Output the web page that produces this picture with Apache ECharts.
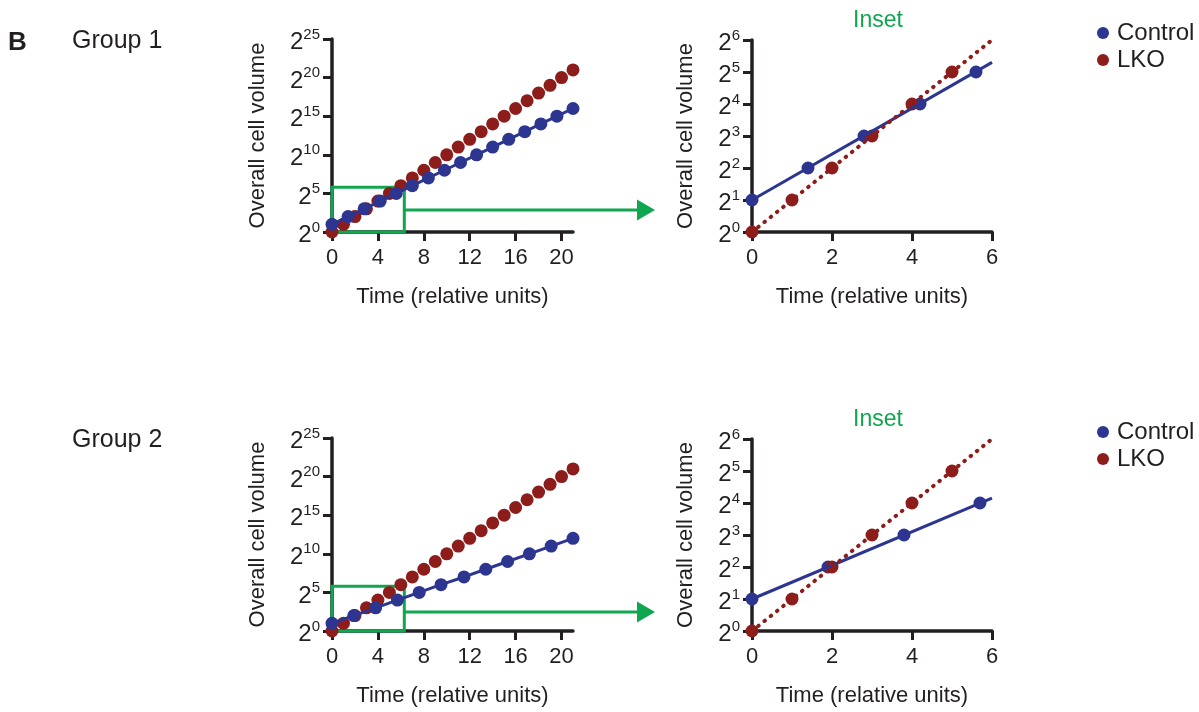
<!DOCTYPE html>
<html>
<head>
<meta charset="utf-8">
<script src="https://cdn.jsdelivr.net/npm/echarts@6.0.0/dist/echarts.min.js"></script>
<style>
  html, body { margin: 0; padding: 0; background: #fff; }
  #chart { width: 1199px; height: 712px; }
</style>
</head>
<body>
<div id="chart"></div>
<script>
// time points and log2 volume (exponents)
var timeLko = [0, 1, 2, 3, 4, 5, 6, 7, 8, 9, 10, 11, 12, 13, 14, 15, 16, 17, 18, 19, 20, 21]
var volLko = [0, 1, 2, 3, 4, 5, 6, 7, 8, 9, 10, 11, 12, 13, 14, 15, 16, 17, 18, 19, 20, 21]

var timeCtrl1 = [0, 1.4, 2.8, 4.2, 5.6, 7, 8.4, 9.8, 11.2, 12.6, 14, 15.4, 16.8, 18.2, 19.6, 21]
var volCtrl1 = [1, 2, 3, 4, 5, 6, 7, 8, 9, 10, 11, 12, 13, 14, 15, 16]

var timeCtrl2 = [0, 1.9, 3.8, 5.7, 7.6, 9.5, 11.5, 13.4, 15.3, 17.2, 19.1, 21]
var volCtrl2 = [1, 2, 3, 4, 5, 6, 7, 8, 9, 10, 11, 12]

// fitted lines shown in the insets
var fitTime = [0, 6]
var fitLko = [0, 6]
var fitCtrl1 = [1, 5.3]
var fitCtrl2 = [1, 4.15]

// zoom box on the main plots and arrow height (data units)
var boxTime = [0, 6.3]
var boxVol = [0, 5.8]
var arrowVol = [2.85, 2.5]

var mainTimeTicks = [0, 4, 8, 12, 16, 20]
var groups = ['Group 1', 'Group 2']

var BLUE = '#2c3590'
var RED = '#8c1d1a'
var GREEN = '#10a650'
var INK = '#231f20'
var FONT = 'Arial, "Liberation Sans", Helvetica, sans-serif'

function zip(xs, ys) {
  return xs.map(function(x, i) { return [x, ys[i]] })
}
function inset(pts) {
  return pts.filter(function(p) { return p[0] < 6 })
}

var chart = echarts.init(document.getElementById('chart'))

var powLabel = {
  color: INK,
  fontFamily: FONT,
  margin: 12,
  formatter: function(v) { return '{b|2}{s|' + v + '}' },
  rich: {
    b: { fontSize: 24, lineHeight: 24, padding: [7, 0, 0, 0], fontFamily: FONT, color: INK },
    s: { fontSize: 15, lineHeight: 15, verticalAlign: 'top', fontFamily: FONT, color: INK }
  }
}
var axisLine = { show: true, lineStyle: { color: INK, width: 3.5 } }
var axisTick = { show: true, length: 9, lineStyle: { color: INK, width: 3 } }
var nameStyle = { fontSize: 22, fontFamily: FONT, color: INK }
var tickLabel = { fontSize: 22, fontFamily: FONT, color: INK, margin: 15 }
var DOT = 13

var grids = [], xAxes = [], yAxes = [], series = [], titles = [], legends = []

titles.push({ text: 'B', left: 8, top: 30, padding: 0,
  textStyle: { fontSize: 26, fontWeight: 'bold', fontFamily: FONT, color: INK } })

groups.forEach(function(name, g) {
  var top = g === 0 ? 39 : 438
  var ctrlT = g === 0 ? timeCtrl1 : timeCtrl2
  var ctrlV = g === 0 ? volCtrl1 : volCtrl2
  var fitC = g === 0 ? fitCtrl1 : fitCtrl2
  var main = 2 * g, ins = 2 * g + 1

  titles.push({ text: name, left: 72, top: top - 10, padding: 0,
    textStyle: { fontSize: 25, fontWeight: 'normal', fontFamily: FONT, color: INK } })
  titles.push({ text: 'Inset', left: 878, textAlign: 'center', top: top - 30, padding: 0,
    textStyle: { fontSize: 23, fontWeight: 'normal', fontFamily: FONT, color: GREEN } })

  legends.push({
    orient: 'vertical', left: 1097, top: top - 18, padding: 0,
    data: ['Control', 'LKO'], icon: 'circle',
    itemWidth: 18, itemHeight: 12, itemGap: 3,
    textStyle: { fontSize: 24, lineHeight: 24, fontFamily: FONT, color: INK }
  })

  grids.push({ left: 332, top: top, width: 241, height: 193 })
  grids.push({ left: 752, top: top + 1, width: 240, height: 192 })

  xAxes.push({
    gridIndex: main, type: 'value', min: 0, max: 21,
    name: 'Time (relative units)', nameLocation: 'middle', nameGap: 54, nameTextStyle: nameStyle,
    axisLine: axisLine, splitLine: { show: false },
    axisTick: Object.assign({ customValues: mainTimeTicks }, axisTick),
    axisLabel: Object.assign({ customValues: mainTimeTicks }, tickLabel)
  })
  xAxes.push({
    gridIndex: ins, type: 'value', min: 0, max: 6, interval: 2,
    name: 'Time (relative units)', nameLocation: 'middle', nameGap: 54, nameTextStyle: nameStyle,
    axisLine: axisLine, axisTick: axisTick, axisLabel: tickLabel, splitLine: { show: false }
  })
  yAxes.push({
    gridIndex: main, type: 'value', min: 0, max: 25, interval: 5,
    name: 'Overall cell volume', nameLocation: 'middle', nameGap: 63, nameTextStyle: nameStyle,
    axisLine: axisLine, axisTick: axisTick, axisLabel: powLabel, splitLine: { show: false }
  })
  yAxes.push({
    gridIndex: ins, type: 'value', min: 0, max: 6, interval: 1,
    name: 'Overall cell volume', nameLocation: 'middle', nameGap: 55, nameTextStyle: nameStyle,
    axisLine: axisLine, axisTick: axisTick, axisLabel: powLabel, splitLine: { show: false }
  })

  // main plot
  series.push({
    type: 'line', name: 'Control', xAxisIndex: main, yAxisIndex: main,
    data: zip(ctrlT, ctrlV), symbol: 'circle', symbolSize: DOT, showAllSymbol: true,
    itemStyle: { color: BLUE }, lineStyle: { color: BLUE, width: 3 },
    animation: false, silent: true,
    markArea: {
      silent: true,
      itemStyle: { color: 'rgba(0,0,0,0)', borderColor: GREEN, borderWidth: 3 },
      label: { show: false },
      data: [[{ coord: [boxTime[0], boxVol[0]] }, { coord: [boxTime[1], boxVol[1]] }]]
    }
  })
  series.push({
    type: 'scatter', name: 'LKO', xAxisIndex: main, yAxisIndex: main,
    data: zip(timeLko, volLko), symbolSize: DOT,
    itemStyle: { color: RED, opacity: 1 }, animation: false, silent: true
  })

  // inset
  series.push({
    type: 'line', name: 'ctrlFit', xAxisIndex: ins, yAxisIndex: ins,
    data: zip(fitTime, fitC), showSymbol: false,
    lineStyle: { color: BLUE, width: 3 }, animation: false, silent: true
  })
  series.push({
    type: 'line', name: 'lkoFit', xAxisIndex: ins, yAxisIndex: ins,
    data: zip(fitTime, fitLko), showSymbol: false,
    lineStyle: { color: RED, width: 4, type: [0.5, 7.5], cap: 'round' }, animation: false, silent: true
  })
  series.push({
    type: 'scatter', name: 'Control', xAxisIndex: ins, yAxisIndex: ins,
    data: inset(zip(ctrlT, ctrlV)), symbolSize: DOT,
    itemStyle: { color: BLUE, opacity: 1 }, animation: false, silent: true
  })
  series.push({
    type: 'scatter', name: 'LKO', xAxisIndex: ins, yAxisIndex: ins,
    data: inset(zip(timeLko, volLko)), symbolSize: DOT,
    itemStyle: { color: RED, opacity: 1 }, animation: false, silent: true
  })
})

chart.setOption({
  backgroundColor: '#fff',
  animation: false,
  title: titles,
  legend: legends,
  grid: grids,
  xAxis: xAxes,
  yAxis: yAxes,
  series: series
})

// arrows from the zoom box to the inset
var arrowTip = 655
var graphics = []
groups.forEach(function(name, g) {
  var p = chart.convertToPixel({ gridIndex: 2 * g }, [boxTime[1], arrowVol[g]])
  var y = Math.round(p[1])
  graphics.push({
    type: 'line', silent: true,
    shape: { x1: p[0], y1: y, x2: arrowTip - 17, y2: y },
    style: { stroke: GREEN, lineWidth: 3 }
  })
  graphics.push({
    type: 'polygon', silent: true,
    shape: { points: [[arrowTip - 18, y - 10.5], [arrowTip, y], [arrowTip - 18, y + 10.5]] },
    style: { fill: GREEN }
  })
})
chart.setOption({ graphic: graphics })
</script>
</body>
</html>
